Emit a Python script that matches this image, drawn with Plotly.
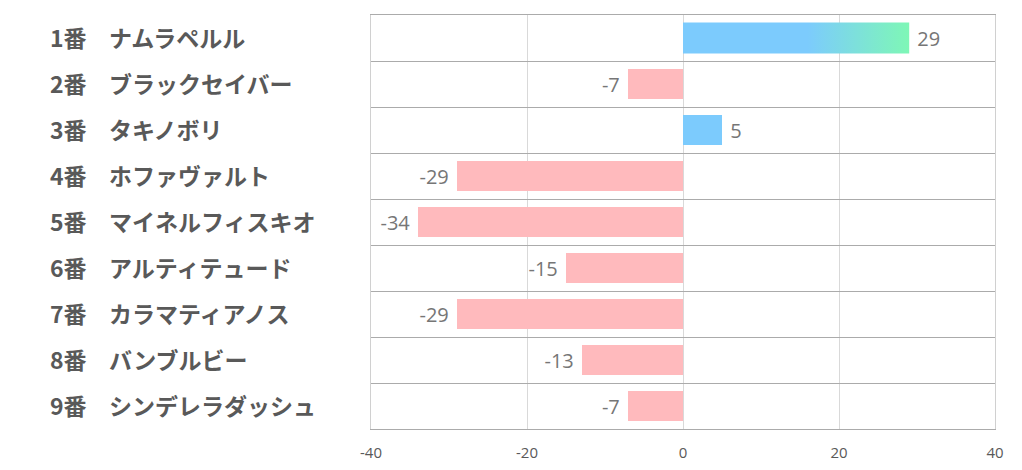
import plotly.graph_objects as go

numbers = ["1番", "2番", "3番", "4番", "5番", "6番", "7番", "8番", "9番"]
horses = ["ナムラペルル", "ブラックセイバー", "タキノボリ", "ホファヴァルト", "マイネルフィスキオ",
          "アルティテュード", "カラマティアノス", "バンブルビー", "シンデレラダッシュ"]
scores = [29, -7, 5, -29, -34, -15, -29, -13, -7]
x_ticks = [-40, -20, 0, 20, 40]

BLUE = "#7ccbfd"
GREEN = "#7ef7b6"
PINK = "#ffbabd"
LABEL = "#595959"
VALUE = "#767676"

rows = list(range(len(scores)))
bar_w = 0.67

fig = go.Figure()

fig.add_trace(go.Bar(
    x=scores,
    y=rows,
    orientation="h",
    width=bar_w,
    marker=dict(color=[BLUE if s >= 0 else PINK for s in scores], line=dict(width=0)),
    text=[(" " + str(s)) if s >= 0 else (str(s) + " ") for s in scores],
    textposition="outside",
    textfont=dict(family="Open Sans, Noto Sans", size=20, color=VALUE),
    cliponaxis=False,
    hoverinfo="skip",
))

# gradient overlay for the top scorer
top = scores.index(max(scores))
h = bar_w / 2
fig.add_trace(go.Scatter(
    x=[0, scores[top], scores[top], 0, 0],
    y=[top - h, top - h, top + h, top + h, top - h],
    mode="lines",
    line=dict(width=0),
    fill="toself",
    fillgradient=dict(type="horizontal",
                      colorscale=[[0, BLUE], [0.55, BLUE], [1, GREEN]]),
    hoverinfo="skip",
    showlegend=False,
))

label_font = dict(family="Noto Sans CJK JP", size=23, color=LABEL, weight="bold")
for i in rows:
    fig.add_annotation(x=0, xref="paper", xshift=-323, y=i, yref="y", yshift=1,
                       text=numbers[i], showarrow=False, xanchor="left", font=label_font)
    fig.add_annotation(x=0, xref="paper", xshift=-264, y=i, yref="y", yshift=1,
                       text=horses[i], showarrow=False, xanchor="left", font=label_font)

# page body has an 8px margin, so the figure is shrunk to fit the window
fig.update_layout(
    width=1014, height=462,
    margin=dict(l=363, r=27, t=7, b=41),
    paper_bgcolor="white", plot_bgcolor="white",
    showlegend=False,
    bargap=0,
    xaxis=dict(range=[-40, 40], tickvals=x_ticks, ticktext=[str(t) for t in x_ticks],
               showgrid=True, gridcolor="#d9d9d9",
               gridwidth=1, zeroline=False, showline=True, mirror=True, linecolor="#ababab",
               ticks="", ticklabelstandoff=10,
               tickfont=dict(family="Open Sans, Noto Sans", size=15, color=LABEL)),
    yaxis=dict(range=[len(scores) - 0.5, -0.5], tickvals=[r + 0.5 for r in rows[:-1]],
               ticktext=[""] * (len(scores) - 1), showgrid=True, gridcolor="#ababab",
               gridwidth=1, zeroline=False, showline=True, mirror=True, linecolor="#d0d0d0",
               ticks=""),
)

fig.write_html("out.html")
